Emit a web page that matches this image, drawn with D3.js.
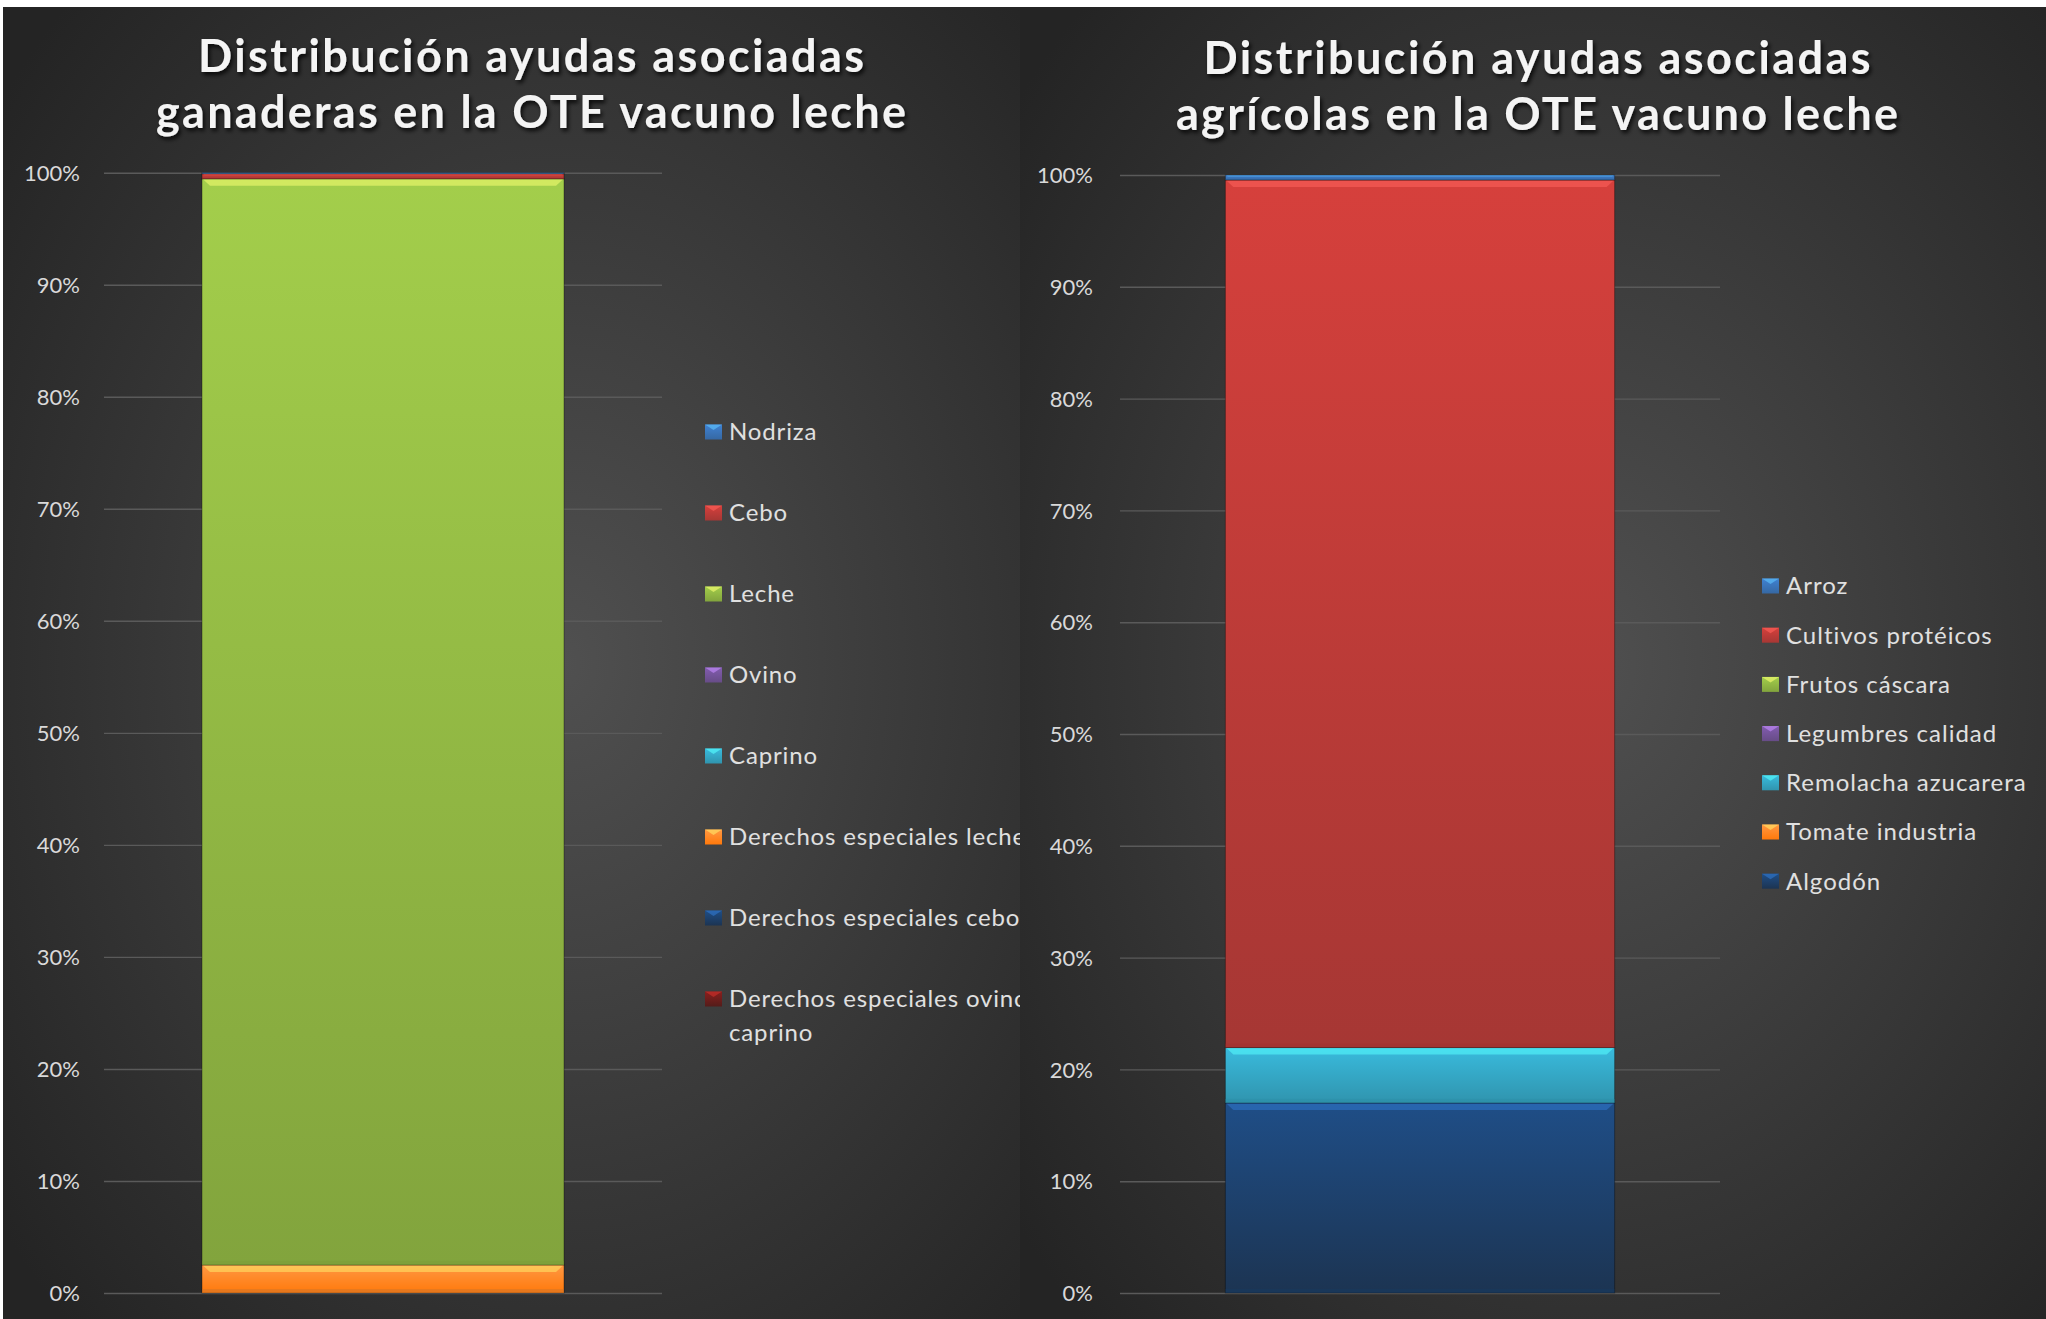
<!DOCTYPE html>
<html>
<head>
<meta charset="utf-8">
<script src="https://cdn.jsdelivr.net/npm/d3@7"></script>
<style>
  body { margin: 0; background: #ffffff; }
  svg { display: block; }
</style>
</head>
<body>
<svg id="chart" width="2046" height="1319"></svg>
<script>

// data (shares in %)
var ganaderasSeries = ["Nodriza", "Cebo", "Leche", "Ovino", "Caprino",
  "Derechos especiales leche", "Derechos especiales cebo", "Derechos especiales ovino caprino"];
var ganaderasValues = [0.1, 0.45, 96.95, 0, 0, 2.5, 0, 0];

var agricolasSeries = ["Arroz", "Cultivos protéicos", "Frutos cáscara", "Legumbres calidad",
  "Remolacha azucarera", "Tomate industria", "Algodón"];
var agricolasValues = [0.45, 77.6, 0, 0, 4.95, 0, 17.0];

var category = "OTE vacuno leche";
var yTickValues = [0, 0.1, 0.2, 0.3, 0.4, 0.5, 0.6, 0.7, 0.8, 0.9, 1];

var ganaderasColors = ["#4f81bd", "#c0504d", "#9bbb59", "#8064a2", "#4bacc6", "#f79646", "#2c4d75", "#772c2a"];
var agricolasColors = ["#4f81bd", "#c0504d", "#9bbb59", "#8064a2", "#4bacc6", "#f79646", "#2c4d75"];

var svg = d3.select("#chart");
var defs = svg.append("defs");

// title shadow
var shadow = defs.append("filter").attr("id", "shadow")
  .attr("x", "-10%").attr("y", "-30%").attr("width", "120%").attr("height", "160%");
shadow.append("feDropShadow")
  .attr("dx", 2).attr("dy", 3).attr("stdDeviation", 2)
  .attr("flood-color", "#000").attr("flood-opacity", 0.8);

// panel background
var bg = defs.append("radialGradient").attr("id", "panelBg")
  .attr("cx", "55%").attr("cy", "50%").attr("r", "70%");
bg.append("stop").attr("offset", "0%").attr("stop-color", "#505050");
bg.append("stop").attr("offset", "100%").attr("stop-color", "#242424");

// top a bit more saturated, bottom darker (excel bevel look)
function topColor(color) {
  var h = d3.hsl(color);
  h.s = Math.min(1, h.s * 1.37);
  h.l = h.l + 0.01;
  return h + "";
}
function bottomColor(color) {
  var h = d3.hsl(color);
  h.s = Math.min(1, h.s * 1.1);
  h.l = h.l - 0.1;
  return h + "";
}

var gradCount = 0;
function segmentGradient(color) {
  var id = "g" + (gradCount++);
  var g = defs.append("linearGradient").attr("id", id)
    .attr("x1", 0).attr("y1", 0).attr("x2", 0).attr("y2", 1);
  g.append("stop").attr("offset", "0%").attr("stop-color", topColor(color));
  g.append("stop").attr("offset", "100%").attr("stop-color", bottomColor(color));
  return id;
}


function drawChart(opt) {

  var panel = svg.append("g");

  panel.append("rect")
    .attr("x", opt.panel[0]).attr("y", 7)
    .attr("width", opt.panel[1] - opt.panel[0]).attr("height", 1312)
    .attr("fill", "url(#panelBg)");

  // title
  opt.title.forEach(function (line, i) {
    panel.append("text")
      .attr("x", opt.titleX)
      .attr("y", opt.titleY[i])
      .attr("text-anchor", "middle")
      .attr("font-family", "Lato, 'Open Sans', sans-serif")
      .attr("font-weight", 700)
      .attr("font-size", 45)
      .attr("fill", "#f4f4f4")
      .attr("filter", "url(#shadow)")
      .attr("textLength", opt.titleW[i])
      .attr("lengthAdjust", "spacing")
      .text(line);
  });

  var x = d3.scaleBand()
    .domain([category])
    .range(opt.xRange)
    .paddingInner(0.213)
    .paddingOuter(0.213);

  var y = d3.scaleLinear()
    .domain([0, 1])
    .range(opt.yRange);

  // axis + grid
  var axis = panel.append("g")
    .attr("transform", "translate(" + opt.xRange[0] + ",0)")
    .call(d3.axisLeft(y)
      .tickValues(yTickValues)
      .tickFormat(d3.format(".0%"))
      .tickSize(-(opt.xRange[1] - opt.xRange[0]))
      .tickPadding(opt.tickPad));

  axis.select(".domain").remove();
  axis.selectAll(".tick line")
    .attr("stroke", "#5a5a5a")
    .attr("stroke-width", 1.4);
  axis.selectAll(".tick text")
    .attr("fill", "#d9d9d9")
    .attr("font-family", "Lato, sans-serif")
    .attr("font-size", 22)
    .attr("dy", "0.35em");

  // stacked bar: last series at bottom
  var row = { cat: category };
  opt.series.forEach(function (s, i) { row[s] = opt.values[i] / 100; });

  var keys = opt.series.slice().reverse();
  var stacked = d3.stack().keys(keys)([row]);

  var bars = panel.append("g");

  stacked.forEach(function (layer) {
    var idx = opt.series.indexOf(layer.key);
    var color = opt.colors[idx];
    var d = layer[0];
    var y0 = y(d[0]), y1 = y(d[1]);
    var h = y0 - y1;
    if (h <= 0) return;

    var bx = x(category), bw = x.bandwidth();
    var c = d3.color(topColor(color));

    bars.append("rect")
      .attr("x", bx).attr("y", y1)
      .attr("width", bw).attr("height", h)
      .attr("fill", "url(#" + segmentGradient(color) + ")")
      .attr("stroke", "rgba(0,0,0,0.35)")
      .attr("stroke-width", 1);

    // bevel highlight on top edge
    var hb = Math.min(7, h * 0.3);
    bars.append("path")
      .attr("d", d3.line()([[bx + 1, y1 + 0.5], [bx + bw - 1, y1 + 0.5],
        [bx + bw - 1 - hb, y1 + hb], [bx + 1 + hb, y1 + hb]]))
      .attr("fill", c.brighter(1.2))
      .attr("opacity", 0.55);

    // darker bottom edge
    var sb = Math.min(4, h * 0.15);
    bars.append("rect")
      .attr("x", bx).attr("y", y0 - sb)
      .attr("width", bw).attr("height", sb)
      .attr("fill", c.darker(0.8))
      .attr("opacity", 0.4);
  });

  // legend
  var legend = panel.append("g");

  opt.series.forEach(function (s, i) {
    var cy = opt.legendY[0] + i * opt.legendStep;
    var c = d3.color(topColor(opt.colors[i]));

    legend.append("rect")
      .attr("x", opt.legendX).attr("y", cy - 7.5)
      .attr("width", 17).attr("height", 15)
      .attr("fill", "url(#" + segmentGradient(opt.colors[i]) + ")");
    legend.append("path")
      .attr("d", d3.line()([[opt.legendX, cy - 7.5], [opt.legendX + 17, cy - 7.5], [opt.legendX + 8.5, cy - 2]]))
      .attr("fill", c.brighter(1.2))
      .attr("opacity", 0.6);

    var t = legend.append("text")
      .attr("x", opt.legendX + 24)
      .attr("y", cy)
      .attr("dy", "0.35em")
      .attr("fill", "#e0e0e0")
      .attr("font-family", "Lato, sans-serif")
      .attr("font-size", 24)
      .attr("letter-spacing", opt.legendSpacing)
      .text(s);

    // wrap long entries
    if (t.node().getComputedTextLength() > opt.legendWrap) {
      var words = s.split(" ");
      var first = [], rest = [];
      t.text("");
      var probe = t.append("tspan");
      words.forEach(function (w) {
        if (rest.length === 0) {
          probe.text(first.concat([w]).join(" "));
          if (probe.node().getComputedTextLength() > opt.legendWrap && first.length > 0) rest.push(w);
          else first.push(w);
        } else {
          rest.push(w);
        }
      });
      probe.text(first.join(" "));
      t.append("tspan")
        .attr("x", opt.legendX + 24)
        .attr("dy", "1.4em")
        .text(rest.join(" "));
    }
  });
}


drawChart({
  panel: [3, 1020],
  title: ["Distribución ayudas asociadas", "ganaderas en la OTE vacuno leche"],
  titleX: 531,
  titleY: [72, 128],
  titleW: [666, 750],
  xRange: [104, 662],
  yRange: [1293, 172.7],
  tickPad: 24,
  series: ganaderasSeries,
  values: ganaderasValues,
  colors: ganaderasColors,
  legendX: 705,
  legendY: [432],
  legendStep: 81,
  legendSpacing: 0.85,
  legendWrap: 360
});

drawChart({
  panel: [1020, 2046],
  title: ["Distribución ayudas asociadas", "agrícolas en la OTE vacuno leche"],
  titleX: 1537,
  titleY: [74, 130],
  titleW: [667, 722],
  xRange: [1120, 1720],
  yRange: [1293, 175],
  tickPad: 27,
  series: agricolasSeries,
  values: agricolasValues,
  colors: agricolasColors,
  legendX: 1762,
  legendY: [586],
  legendStep: 49.2,
  legendSpacing: 1.0,
  legendWrap: 400
});

</script>
</body>
</html>
